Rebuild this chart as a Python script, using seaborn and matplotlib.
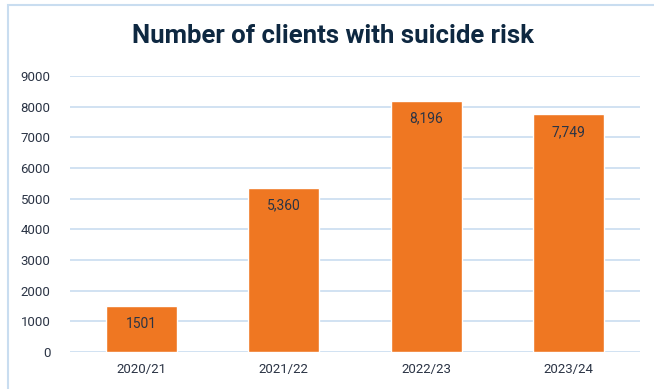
import matplotlib
matplotlib.use("Agg")
import matplotlib.pyplot as plt
import seaborn as sns
import pandas as pd
from matplotlib.patches import Rectangle

years = ["2020/21", "2021/22", "2022/23", "2023/24"]
clients = [1501, 5360, 8196, 7749]
labels = ["1501", "5,360", "8,196", "7,749"]
yticks = [0, 1000, 2000, 3000, 4000, 5000, 6000, 7000, 8000, 9000]

sns.set_theme(style="white")
plt.rcParams['font.family'] = ['Roboto', 'DejaVu Sans']

df = pd.DataFrame({"year": years, "clients": clients})

fig = plt.figure(figsize=(6.54, 3.89), dpi=100)
W, H = 654, 389
ax = fig.add_axes([70 / W, 1 - 352 / H, 570 / W, (352 - 76) / H])

sns.barplot(data=df, x="year", y="clients", color="#EF7722", saturation=1,
            width=0.5, ax=ax, zorder=3)

ax.set_ylim(0, 9000)
ax.set_yticks(yticks)
ax.set_yticklabels([str(t) for t in yticks])
ax.grid(axis="y", color="#c9ddf0", linewidth=1.2, zorder=0)
ax.set_axisbelow(True)
for s in ax.spines.values():
    s.set_visible(False)
ax.set_xlabel("")
ax.set_ylabel("")
ax.tick_params(axis="both", length=0, labelsize=9.5, colors="#2b3445")
ax.tick_params(axis="y", pad=14)
ax.tick_params(axis="x", pad=8)

for i, (v, lab) in enumerate(zip(clients, labels)):
    ax.annotate(lab, xy=(i, v), xytext=(0, -18), textcoords="offset pixels",
                ha="center", va="center", fontsize=10, color="#2b3445")

fig.text(333 / W, 1 - 36 / H, "Number of clients with suicide risk", ha="center", va="center",
         fontsize=18.5, fontweight="bold", color="#0e2841")

fig.patches.append(Rectangle((8 / W, -0.1), 1.2, 1.1 - 5 / H, transform=fig.transFigure,
                             fill=False, edgecolor="#c9ddf0", linewidth=1.5))

fig.savefig("out.png", dpi=100)
